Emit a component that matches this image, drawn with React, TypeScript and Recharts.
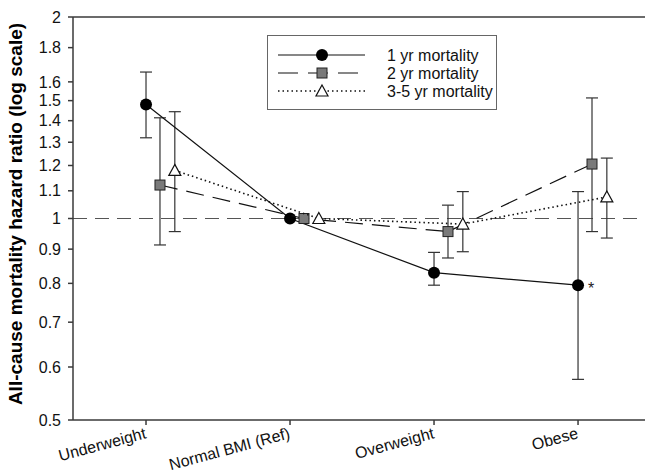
import { ComposedChart, Scatter, XAxis, YAxis, ErrorBar, ReferenceLine } from 'recharts';

const categories = ['Underweight', 'Normal BMI (Ref)', 'Overweight', 'Obese'];
const yTicks = [0.5, 0.6, 0.7, 0.8, 0.9, 1, 1.1, 1.2, 1.3, 1.4, 1.5, 1.6, 1.8, 2];

// 1 yr mortality
const hr1 = [1.48, 1.0, 0.83, 0.795];
const lo1 = [1.32, null, 0.795, 0.575];
const hi1 = [1.655, null, 0.89, 1.097];
const note1 = ['', '', '', '*'];

// 2 yr mortality
const hr2 = [1.122, 1.0, 0.956, 1.206];
const lo2 = [0.913, null, 0.873, 0.956];
const hi2 = [1.414, null, 1.047, 1.514];

// 3-5 yr mortality
const hr3 = [1.18, 1.0, 0.981, 1.077];
const lo3 = [0.956, null, 0.892, 0.935];
const hi3 = [1.444, null, 1.097, 1.231];

const FONT = '"Liberation Sans", Arial, sans-serif';
const AXIS = '#3a3a3a';

type Pt = { x: number; y: number; err?: number[]; note: string };

const build = (hr: number[], lo: (number | null)[], hi: (number | null)[], shift: number, notes?: string[]): Pt[] =>
  hr.map((v, i) => ({
    x: i + shift,
    y: v,
    err: lo[i] == null ? undefined : [v - (lo[i] as number), (hi[i] as number) - v],
    note: notes ? notes[i] : '',
  }));

const data1 = build(hr1, lo1, hi1, 0, note1);
const data2 = build(hr2, lo2, hi2, 0.097);
const data3 = build(hr3, lo3, hi3, 0.2);

const Circle = (p: any) => (
  <g>
    <circle cx={p.cx} cy={p.cy} r={6} fill="#000" />
    {p.payload?.note ? (
      <text x={p.cx + 10} y={p.cy + 9} fontSize={16} fontFamily={FONT} fill="#222">
        {p.payload.note}
      </text>
    ) : null}
  </g>
);

const Square = (p: any) => (
  <rect x={p.cx - 5} y={p.cy - 5} width={10} height={10} fill="#7a7a7a" stroke="#222" strokeWidth={1} />
);

const Triangle = (p: any) => (
  <polygon
    points={`${p.cx},${p.cy - 6} ${p.cx + 6},${p.cy + 5} ${p.cx - 6},${p.cy + 5}`}
    fill="#fff"
    stroke="#111"
    strokeWidth={1.2}
  />
);

const XTick = (p: any) => (
  <text
    x={p.x + 1}
    y={p.y + 11}
    transform={`rotate(-15 ${p.x + 1} ${p.y + 11})`}
    textAnchor="end"
    fontSize={16}
    fontFamily={FONT}
    fill="#111"
  >
    {categories[p.payload.value]}
  </text>
);

const Legend = () => (
  <div style={{ position: 'absolute', left: 267, top: 35, width: 230, height: 75, border: '1.5px solid #666', background: '#fff', boxSizing: 'border-box' }}>
    <svg width={228} height={73} style={{ display: 'block' }}>
      <g fontFamily={FONT} fontSize={16} fill="#111">
        <line x1={10} x2={97} y1={19} y2={19} stroke="#111" strokeWidth={1.2} />
        <circle cx={54} cy={19} r={6} fill="#000" />
        <text x={119} y={25}>1 yr mortality</text>

        <line x1={10} x2={97} y1={37} y2={37} stroke="#111" strokeWidth={1.2} strokeDasharray="20 10" />
        <rect x={49} y={32} width={10} height={10} fill="#7a7a7a" stroke="#222" />
        <text x={119} y={43}>2 yr mortality</text>

        <line x1={10} x2={97} y1={55} y2={55} stroke="#111" strokeWidth={1.6} strokeDasharray="1.5 3" />
        <polygon points="54,49 60,60 48,60" fill="#fff" stroke="#111" strokeWidth={1.2} />
        <text x={119} y={61}>3-5 yr mortality</text>
      </g>
    </svg>
  </div>
);

export default function App() {
  return (
    <div style={{ position: 'relative', width: 645, height: 472, background: '#fff' }}>
      <style>{`body{margin:0}`}</style>
      <ComposedChart width={645} height={472} margin={{ top: 17, right: 0, bottom: 0, left: 0 }}>
        <XAxis
          type="number"
          dataKey="x"
          domain={[-0.507, 3.465]}
          ticks={[0, 1, 2, 3]}
          interval={0}
          allowDataOverflow
          height={52}
          stroke={AXIS}
          strokeWidth={1.5}
          tickSize={5}
          tick={<XTick />}
        />
        <YAxis
          type="number"
          dataKey="y"
          scale="log"
          domain={[0.5, 2]}
          ticks={yTicks}
          interval={0}
          allowDataOverflow
          width={73}
          stroke={AXIS}
          strokeWidth={1.5}
          tickSize={5}
          tickMargin={7}
          tick={{ fontSize: 16, fontFamily: FONT, fill: '#111' }}
          label={{
            content: () => (
              <text
                x={22}
                y={214}
                transform="rotate(-90 22 214)"
                textAnchor="middle"
                fontSize={19}
                fontWeight="bold"
                fontFamily={FONT}
                fill="#000"
              >
                All-cause mortality hazard ratio (log scale)
              </text>
            ),
          }}
        />
        <ReferenceLine y={2} stroke={AXIS} strokeWidth={1.5} />
        <ReferenceLine y={1} stroke="#555" strokeWidth={1} strokeDasharray="14 8" />

        <Scatter
          data={data1}
          isAnimationActive={false}
          line={{ stroke: '#111', strokeWidth: 1.2 }}
          lineType="joint"
          shape={<Circle />}
        >
          <ErrorBar dataKey="err" direction="y" width={6} stroke="#333" strokeWidth={1.2} />
        </Scatter>
        <Scatter
          data={data2}
          isAnimationActive={false}
          line={{ stroke: '#111', strokeWidth: 1.2, strokeDasharray: '18 9' }}
          lineType="joint"
          shape={<Square />}
        >
          <ErrorBar dataKey="err" direction="y" width={6} stroke="#333" strokeWidth={1.2} />
        </Scatter>
        <Scatter
          data={data3}
          isAnimationActive={false}
          line={{ stroke: '#111', strokeWidth: 1.6, strokeDasharray: '1.5 3' }}
          lineType="joint"
          shape={<Triangle />}
        >
          <ErrorBar dataKey="err" direction="y" width={6} stroke="#333" strokeWidth={1.2} />
        </Scatter>
      </ComposedChart>
      <Legend />
    </div>
  );
}
